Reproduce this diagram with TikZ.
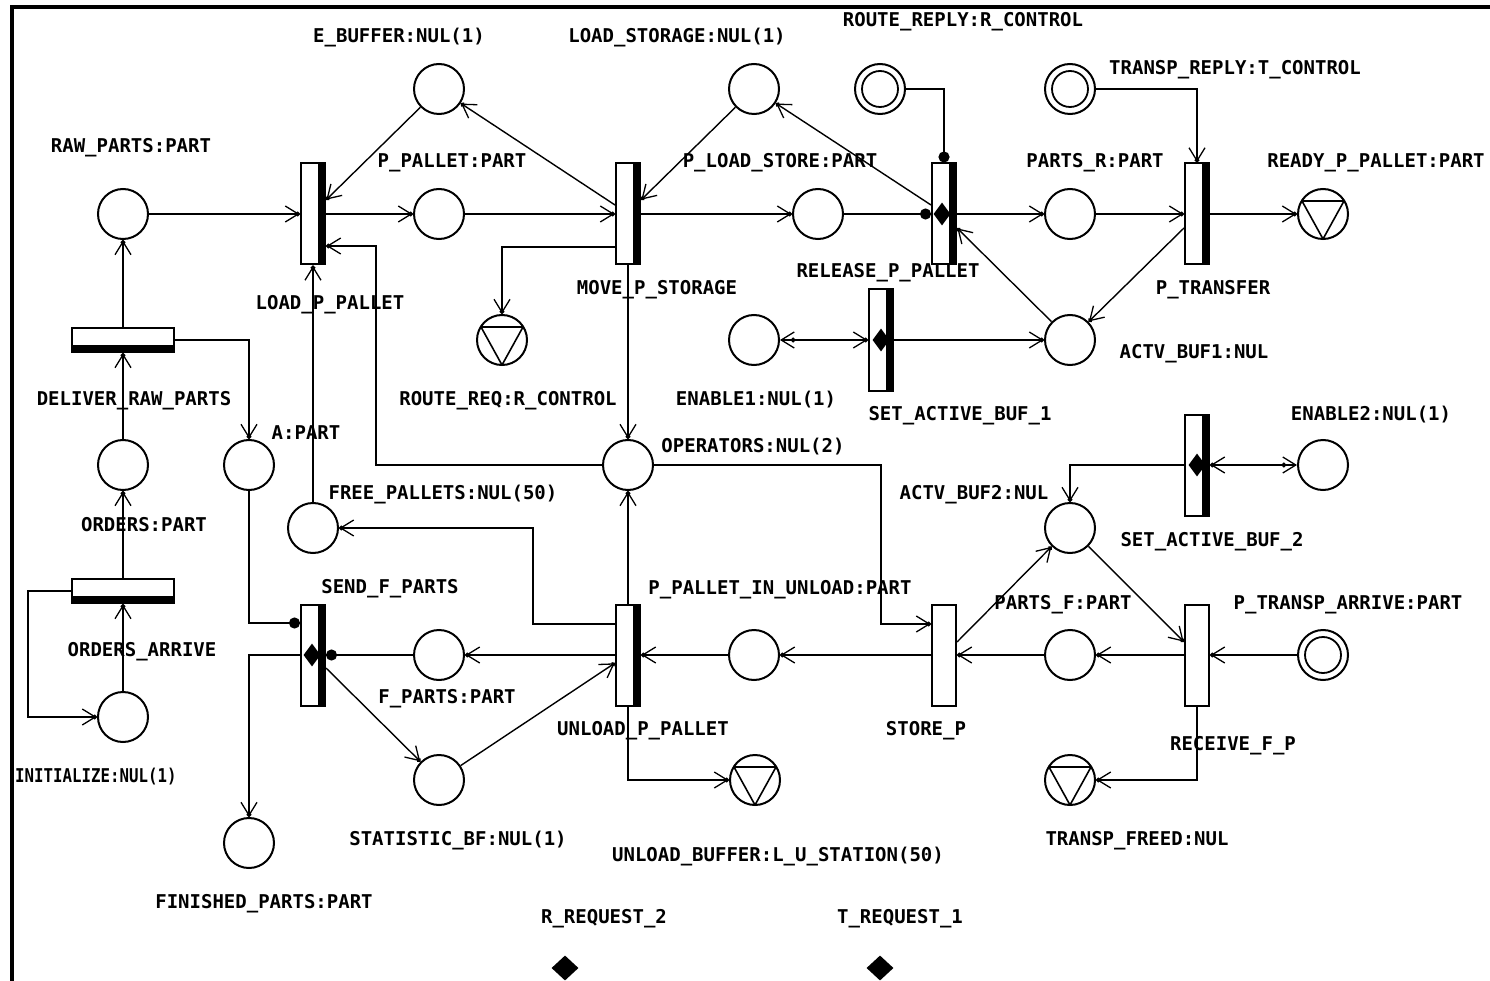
\documentclass[tikz,border=0pt]{standalone}
\usepackage{fontspec}
\usepackage{graphicx}
\usetikzlibrary{arrows.meta,shapes.geometric}
\newfontfamily\lblface{DejaVu Sans Mono}
\tikzset{
  pe/.tip={Straight Barb[length=13pt,width=16pt,line width=1.3pt,sep=-4pt] Circle[length=4.5pt]},
  ps/.tip={Circle[length=4.5pt,sep=-4pt] Straight Barb[length=13pt,width=16pt,line width=1.3pt]},
}
\begin{document}
\begin{tikzpicture}[x=1pt,y=-1pt,
  place/.style={circle,draw,line width=2pt,minimum size=50pt,inner sep=0pt,fill=white},
  inplace/.style={place,path picture={\draw[black,line width=1.8pt] (path picture bounding box.center) circle (18pt);}},
  outplace/.style={place,path picture={\draw[black,line width=1.6pt,line join=round]
      ([shift={(-21pt,13pt)}]path picture bounding box.center) --
      ([shift={(21pt,13pt)}]path picture bounding box.center) --
      ([shift={(0pt,-25pt)}]path picture bounding box.center) -- cycle;}},
  trans/.style={rectangle,draw,fill=white,line width=2pt,minimum width=24pt,minimum height=101pt,inner sep=0pt},
  transbar/.style={trans,path picture={\fill[black] ([xshift=-7pt]path picture bounding box.north east) rectangle (path picture bounding box.south east);}},
  htransbar/.style={rectangle,draw,fill=white,line width=2pt,minimum width=102pt,minimum height=24pt,inner sep=0pt,
      path picture={\fill[black] (path picture bounding box.south west) rectangle ([yshift=7pt]path picture bounding box.south east);}},
  trig/.style={diamond,fill=black,inner sep=0pt,aspect=0.7,minimum width=17pt,minimum height=23pt},
  trigbig/.style={diamond,fill=black,inner sep=0pt,minimum width=27pt,minimum height=25pt},
  lbl/.style={font={\lblface\fontsize{19}{19}\selectfont\bfseries},text height=14pt,text depth=0pt,inner sep=0pt},
  arc/.style={line width=2.3pt,-{pe}},
  darc/.style={line width=1.4pt,-{pe}},
  tarc/.style={line width=2.3pt,-{Circle[length=11pt]}},
  barc/.style={line width=2.3pt,{ps}-{pe}},
]
\fill[white] (0,0) rectangle (1490,981);
\useasboundingbox (0,0) rectangle (1490,981);
% frame
\draw[line width=3.5pt] (12,981) -- (12,7) -- (1490,7);

% ---------- places ----------
\node[place] (rawparts) at (123,214) {};
\node[place] (ebuffer) at (439,89) {};
\node[place] (ppallet) at (439,214) {};
\node[place] (loadstorage) at (754,89) {};
\node[place] (ploadstore) at (818,214) {};
\node[inplace] (routereply) at (880,89) {};
\node[inplace] (transpreply) at (1070,89) {};
\node[place] (partsr) at (1070,214) {};
\node[outplace] (readyppallet) at (1323,214) {};
\node[outplace] (routereq) at (502,340) {};
\node[place] (enable1) at (754,340) {};
\node[place] (actvbuf1) at (1070,340) {};
\node[place] (orders) at (123,465) {};
\node[place] (apart) at (249,465) {};
\node[place] (operators) at (628,465) {};
\node[place] (enable2) at (1323,465) {};
\node[place] (freepallets) at (313,528) {};
\node[place] (actvbuf2) at (1070,528) {};
\node[place] (fparts) at (439,655) {};
\node[place] (ppalletunload) at (754,655) {};
\node[place] (partsf) at (1070,655) {};
\node[inplace] (ptransparrive) at (1323,655) {};
\node[place] (initialize) at (123,717) {};
\node[place] (statistic) at (439,780) {};
\node[outplace] (unloadbuffer) at (755,780) {};
\node[outplace] (transpfreed) at (1070,780) {};
\node[place] (finished) at (249,843) {};

% ---------- transitions ----------
\node[transbar] (loadppallet) at (313,214) {};
\node[transbar] (moveps) at (628,214) {};
\node[transbar] (releasepp) at (944,214) {};
\node[transbar] (ptransfer) at (1197,214) {};
\node[transbar] (setab1) at (881,340) {};
\node[transbar] (setab2) at (1197,465) {};
\node[transbar] (sendfp) at (313,655) {};
\node[transbar] (unloadpp) at (628,655) {};
\node[trans] (storep) at (944,655) {};
\node[trans] (receivefp) at (1197,655) {};
\node[htransbar] (deliver) at (123,340) {};
\node[htransbar] (ordersarrive) at (123,591) {};

% trigger marks inside transitions
\node[trig] (trigrel) at (942,214) {};
\node[trig] (trigsab1) at (881,340) {};
\node[trig] (trigsab2) at (1197,465) {};
\node[trig] (trigsend) at (312,655) {};

% request triggers
\node[trigbig] (rreq2) at (565,968) {};
\node[trigbig] (treq1) at (880,968) {};

% ---------- turning points ----------
\coordinate (opturn) at (376,465);
\coordinate (opturn2) at (881,465);
\coordinate (fpturn) at (533,624);
\coordinate (initturn) at (28,591);

% ---------- arcs ----------
\draw[arc] (rawparts) -- (loadppallet);
\draw[arc] (loadppallet) -- (ppallet);
\draw[darc] (ebuffer) -- ([yshift=14pt]loadppallet.east);
\draw[darc] ([yshift=9pt]moveps.west) -- (ebuffer);
\draw[arc] (ppallet) -- (moveps);
\draw[arc] (moveps) -- (ploadstore);
\draw[darc] (loadstorage) -- ([yshift=14pt]moveps.east);
\draw[darc] ([yshift=9pt]releasepp.west) -- (loadstorage);
\draw[tarc] (ploadstore) -- (releasepp);
\draw[tarc] (routereply) -| (releasepp);
\draw[arc] (releasepp) -- (partsr);
\draw[arc] (partsr) -- (ptransfer);
\draw[arc] (transpreply) -| (ptransfer);
\draw[arc] (ptransfer) -- (readyppallet);
\draw[darc] ([yshift=-14pt]ptransfer.west) -- (actvbuf1);
\draw[darc] (actvbuf1) -- ([yshift=-14pt]releasepp.east);
\draw[barc] (enable1) -- (setab1);
\draw[arc] (setab1) -- (actvbuf1);
\draw[arc] ([yshift=-33pt]moveps.west) -| (routereq);
\draw[arc] (moveps) -- (operators);
\draw[arc] (operators) -- (opturn) |- ([yshift=-32pt]loadppallet.east);
\draw[arc] (freepallets) -- (loadppallet);
\draw[arc] (deliver) -- (rawparts);
\draw[arc] (orders) -- (deliver);
\draw[arc] (deliver) -| (apart);
\draw[arc] (ordersarrive) -- (orders);
\draw[arc] (ordersarrive) -- (initturn) |- (initialize);
\draw[arc] (initialize) -- (ordersarrive);
\draw[tarc] (apart) |- ([yshift=32pt]sendfp.west);
\draw[arc] (sendfp) -| (finished);
\draw[tarc] (fparts) -- (sendfp);
\draw[darc] ([yshift=-13pt]sendfp.east) -- (statistic);
\draw[darc] (statistic) -- ([yshift=-8pt]unloadpp.west);
\draw[arc] (unloadpp) -- (fparts);
\draw[arc] ([yshift=31pt]unloadpp.west) -- (fpturn) |- (freepallets);
\draw[arc] (unloadpp) -- (operators);
\draw[arc] (ppalletunload) -- (unloadpp);
\draw[arc] (unloadpp) |- (unloadbuffer);
\draw[arc] (storep) -- (ppalletunload);
\draw[arc] (operators) -- (opturn2) |- ([yshift=31pt]storep.west);
\draw[darc] ([yshift=13pt]storep.east) -- (actvbuf2);
\draw[darc] (actvbuf2) -- ([yshift=13pt]receivefp.west);
\draw[arc] (partsf) -- (storep);
\draw[arc] (receivefp) -- (partsf);
\draw[arc] (ptransparrive) -- (receivefp);
\draw[arc] (receivefp) |- (transpfreed);
\draw[arc] (setab2) -| (actvbuf2);
\draw[barc] (enable2) -- (setab2);

% ---------- labels ----------
\node[lbl] (l1) at (399,36) {E\_BUFFER:NUL(1)};
\node[lbl] (l2) at (677,36) {LOAD\_STORAGE:NUL(1)};
\node[lbl] (l3) at (963,20) {ROUTE\_REPLY:R\_CONTROL};
\node[lbl] (l4) at (1235,68) {TRANSP\_REPLY:T\_CONTROL};
\node[lbl] (l5) at (131,146) {RAW\_PARTS:PART};
\node[lbl] (l6) at (452,161) {P\_PALLET:PART};
\node[lbl] (l7) at (780,161) {P\_LOAD\_STORE:PART};
\node[lbl] (l8) at (1095,161) {PARTS\_R:PART};
\node[lbl] (l9) at (1376,161) {READY\_P\_PALLET:PART};
\node[lbl] (l10) at (330,303) {LOAD\_P\_PALLET};
\node[lbl] (l11) at (657,288) {MOVE\_P\_STORAGE};
\node[lbl] (l12) at (888,271) {RELEASE\_P\_PALLET};
\node[lbl] (l13) at (1213,288) {P\_TRANSFER};
\node[lbl] (l14) at (1194,351) {ACTV\_BUF1:NUL};
\node[lbl] (l15) at (134,398) {DELIVER\_RAW\_PARTS};
\node[lbl] (l16) at (508,398) {ROUTE\_REQ:R\_CONTROL};
\node[lbl] (l17) at (756,398) {ENABLE1:NUL(1)};
\node[lbl] (l18) at (960,413) {SET\_ACTIVE\_BUF\_1};
\node[lbl] (l19) at (1371,413) {ENABLE2:NUL(1)};
\node[lbl] (l20) at (306,432) {A:PART};
\node[lbl] (l21) at (753,445) {OPERATORS:NUL(2)};
\node[lbl] (l22) at (443,492) {FREE\_PALLETS:NUL(50)};
\node[lbl] (l23) at (974,492) {ACTV\_BUF2:NUL};
\node[lbl] (l24) at (144,524) {ORDERS:PART};
\node[lbl] (l25) at (1212,539) {SET\_ACTIVE\_BUF\_2};
\node[lbl] (l26) at (390,586) {SEND\_F\_PARTS};
\node[lbl] (l27) at (780,587) {P\_PALLET\_IN\_UNLOAD:PART};
\node[lbl] (l28) at (1063,602) {PARTS\_F:PART};
\node[lbl] (l29) at (1348,602) {P\_TRANSP\_ARRIVE:PART};
\node[lbl] (l30) at (142,649) {ORDERS\_ARRIVE};
\node[lbl] (l31) at (447,696) {F\_PARTS:PART};
\node[lbl] (l32) at (643,728) {UNLOAD\_P\_PALLET};
\node[lbl] (l33) at (926,728) {STORE\_P};
\node[lbl] (l34) at (1233,743) {RECEIVE\_F\_P};
\node[lbl,anchor=west] (l35) at (15,775) {\scalebox{0.83}[1]{INITIALIZE:NUL(1)}};
\node[lbl] (l36) at (458,838) {STATISTIC\_BF:NUL(1)};
\node[lbl] (l37) at (778,854) {UNLOAD\_BUFFER:L\_U\_STATION(50)};
\node[lbl] (l38) at (1137,838) {TRANSP\_FREED:NUL};
\node[lbl] (l39) at (264,901) {FINISHED\_PARTS:PART};
\node[lbl] (l40) at (604,916) {R\_REQUEST\_2};
\node[lbl] (l41) at (900,916) {T\_REQUEST\_1};
\end{tikzpicture}
\end{document}
